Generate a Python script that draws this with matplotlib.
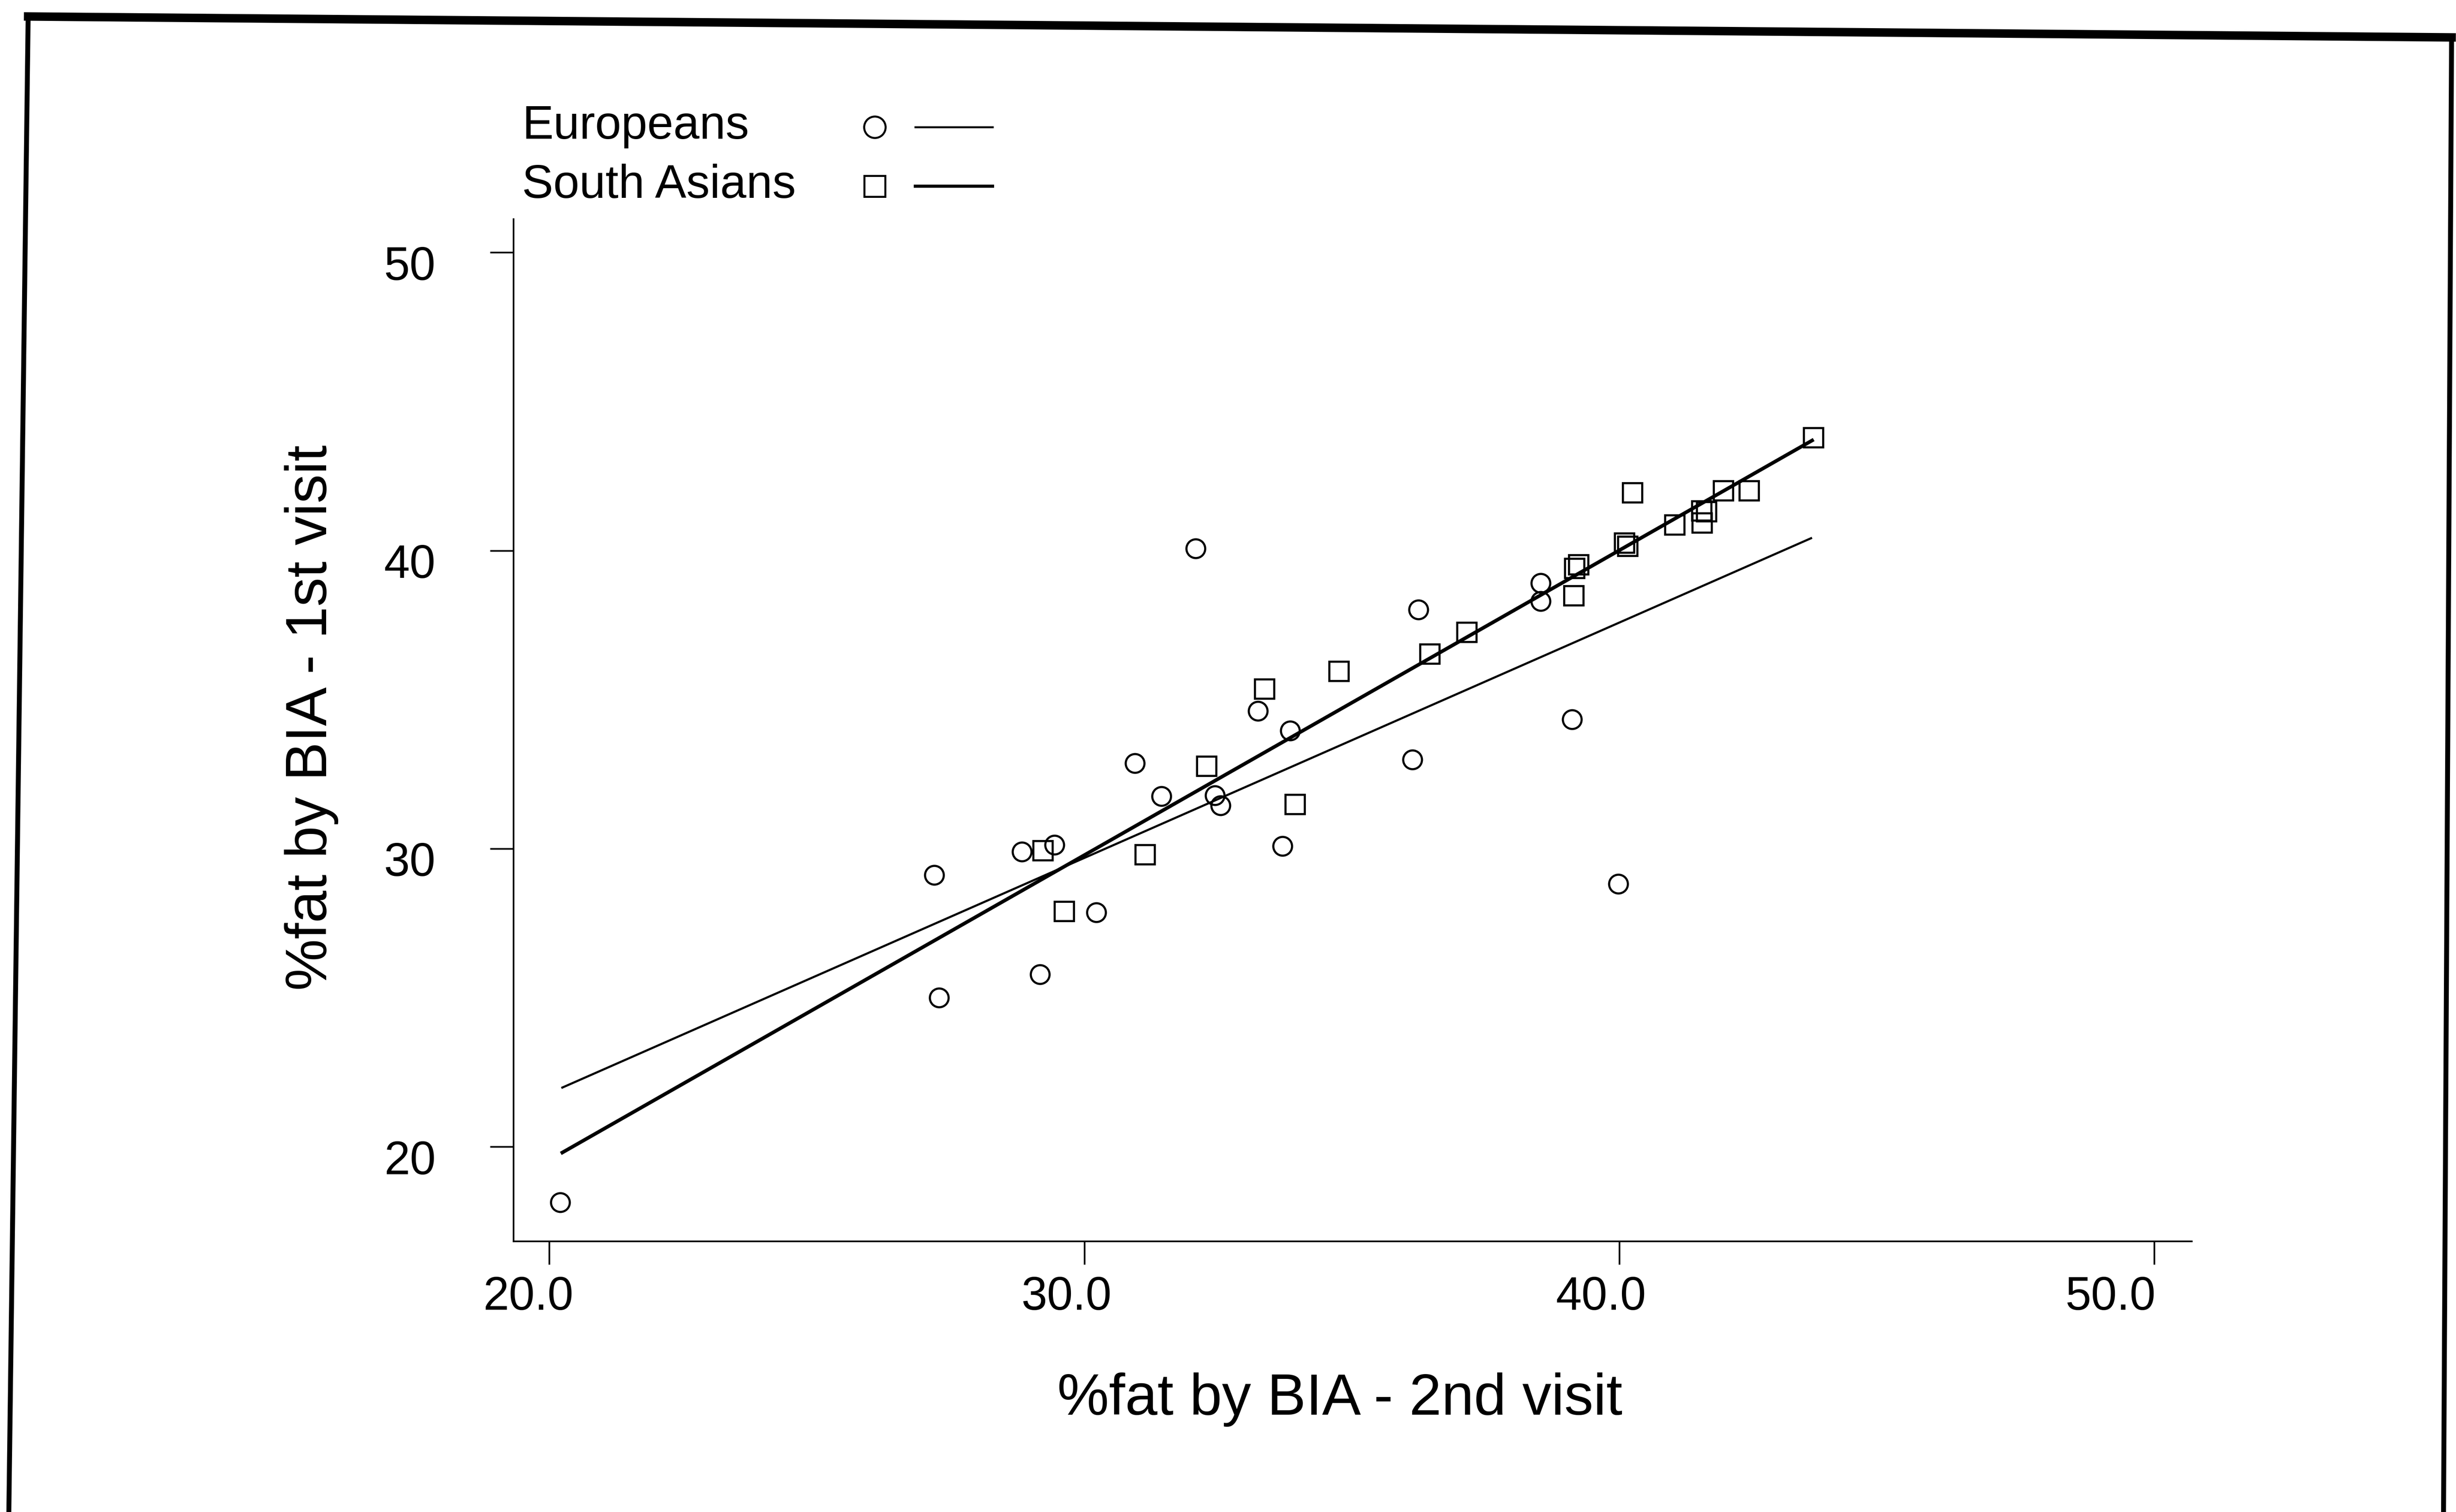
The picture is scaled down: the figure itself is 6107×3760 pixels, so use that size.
import matplotlib
matplotlib.use('Agg')
import matplotlib.pyplot as plt
from matplotlib.lines import Line2D
from matplotlib.legend_handler import HandlerTuple
from matplotlib.transforms import ScaledTranslation

plt.rcParams['font.family'] = ['Liberation Sans', 'DejaVu Sans']

# %fat by BIA: x = 2nd visit, y = 1st visit
eu_visit2 = [20.20, 27.19, 27.28, 28.83, 29.44, 29.17, 30.22, 30.94, 31.44, 32.08, 32.44,
             32.54, 33.24, 33.70, 33.84, 36.13, 36.24, 38.53, 38.53, 39.11, 39.98]
eu_visit1 = [18.14, 29.12, 25.01, 29.90, 30.13, 25.79, 27.87, 32.87, 31.76, 40.07, 31.79,
             31.45, 34.63, 30.09, 33.97, 32.99, 38.02, 38.92, 38.31, 34.34, 28.83]

sa_visit2 = [29.22, 29.62, 31.13, 32.28, 33.36, 33.93, 34.75, 36.45, 37.14, 39.14, 39.16,
             39.23, 40.09, 40.15, 40.24, 41.03, 41.53, 41.54, 41.62, 41.94, 42.42, 43.62]
sa_visit1 = [29.94, 27.91, 29.81, 32.78, 35.37, 31.49, 35.96, 36.54, 37.27, 38.50, 39.42,
             39.54, 40.27, 40.16, 41.95, 40.87, 41.35, 40.94, 41.32, 42.02, 42.02, 43.80]

# regression lines (end points)
eu_fit_x = [20.24, 43.58]
eu_fit_y = [21.99, 40.42]
sa_fit_x = [20.24, 43.60]
sa_fit_y = [19.81, 43.70]

group_names = ['Europeans', 'South Asians']
x_ticks = [20, 30, 40, 50]
x_tick_labels = ['20.0', '30.0', '40.0', '50.0']
y_ticks = [20, 30, 40, 50]
y_tick_labels = ['20', '30', '40', '50']

W, H, DPI = 6107, 3760, 400
fig = plt.figure(figsize=(W / DPI, H / DPI), dpi=DPI)
ax = fig.add_axes([0.20914, 0.17899, 0.68336, 0.67617])

ax.plot(eu_fit_x, eu_fit_y, color='black', lw=0.95)
ax.plot(sa_fit_x, sa_fit_y, color='black', lw=1.6)
ax.plot(eu_visit2, eu_visit1, ls='none', marker='o', ms=8.4, mfc='none',
        mec='black', mew=0.95, clip_on=False)
ax.plot(sa_visit2, sa_visit1, ls='none', marker='s', ms=8.8, mfc='none',
        mec='black', mew=0.95, clip_on=False)

ax.set_xlim(19.33, 50.7)
ax.set_ylim(16.83, 51.13)
for s in ['top', 'right']:
    ax.spines[s].set_visible(False)
for s in ['left', 'bottom']:
    ax.spines[s].set_linewidth(0.75)

ax.set_xticks(x_ticks, x_tick_labels)
ax.set_yticks(y_ticks, y_tick_labels)
ax.tick_params(axis='both', direction='out', length=10.4, width=0.75, labelsize=20.8)
ax.tick_params(axis='x', pad=4.9)
ax.tick_params(axis='y', pad=24.5)

# the printed labels sit a little off their ticks
x_shift_px = [-53, -45, -46, -110]
for lab, dx in zip(ax.get_xticklabels(), x_shift_px):
    lab.set_transform(lab.get_transform() + ScaledTranslation(dx / DPI, 0, fig.dpi_scale_trans))
for lab in ax.get_yticklabels():
    lab.set_transform(lab.get_transform() + ScaledTranslation(0, -25 / DPI, fig.dpi_scale_trans))

ax.set_xlabel('%fat by BIA - 2nd visit', fontsize=26)
ax.set_ylabel('%fat by BIA - 1st visit', fontsize=26)
ax.xaxis.set_label_coords(0.4922, -0.1282)
ax.yaxis.set_label_coords(-0.1043, 0.5122)

# legend: text on the left, marker + line on the right
fs = 21
eu_key = (Line2D([], [], ls='none', marker='o', ms=9.6, mfc='none', mec='black', mew=0.9),
          Line2D([], [], color='black', lw=0.9))
sa_key = (Line2D([], [], ls='none', marker='s', ms=9.2, mfc='none', mec='black', mew=0.9),
          Line2D([], [], color='black', lw=1.4))
ax.legend([eu_key, sa_key], ['', ''], handler_map={tuple: HandlerTuple(ndivide=None, pad=0.043)},
          loc='upper left', bbox_to_anchor=(2079 / W, 1 - 261 / H), bbox_transform=fig.transFigure,
          frameon=False, borderpad=0, borderaxespad=0, handlelength=3.333, handleheight=0.1,
          handletextpad=0, labelspacing=0.33, numpoints=1, fontsize=fs)
for name, yb in zip(group_names, [345, 492]):
    fig.text(1298 / W, 1 - yb / H, name, fontsize=fs, va='baseline', ha='left')

# scanned page frame
frame_kw = dict(color='black', transform=fig.transFigure, solid_capstyle='projecting')
fig.add_artist(Line2D([70 / W, 6096 / W], [1 - 41 / H, 1 - 93 / H], lw=3.8, **frame_kw))
fig.add_artist(Line2D([70 / W, 22 / W], [1 - 41 / H, 0], lw=2.2, **frame_kw))
fig.add_artist(Line2D([6096 / W, 6076 / W], [1 - 93 / H, 0], lw=2.2, **frame_kw))

fig.savefig('out.png', dpi=DPI)
